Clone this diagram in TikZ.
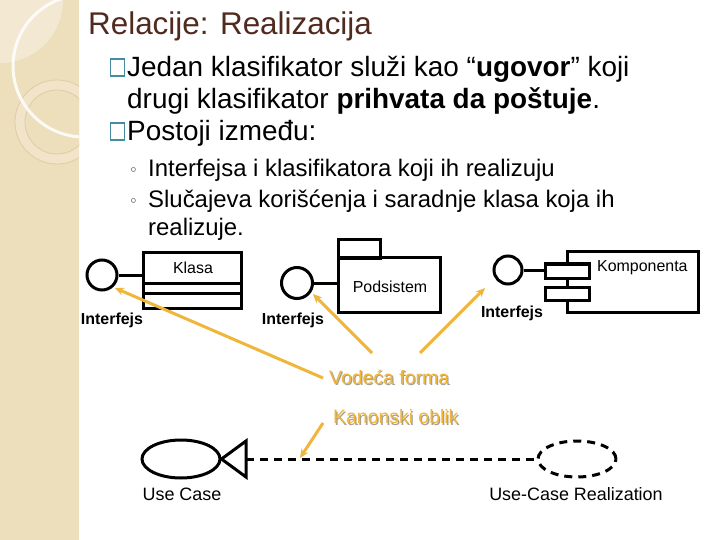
\documentclass[tikz,border=0pt]{standalone}
\usepackage{fontspec}
\setmainfont{Liberation Sans}
\newfontfamily\symf{DejaVu Sans}
\usetikzlibrary{arrows.meta,shapes.geometric}
\definecolor{band}{RGB}{237,222,188}
\definecolor{bandlight}{RGB}{243,233,210}
\definecolor{ringc}{RGB}{222,204,165}
\definecolor{titlec}{RGB}{80,42,30}
\definecolor{tealc}{RGB}{70,140,160}
\definecolor{orng}{RGB}{240,182,58}
\definecolor{shad}{RGB}{165,160,150}
\tikzset{
  ln/.style={line width=3bp, draw=black},
  ifc/.style={circle, draw, line width=3bp, minimum size=30bp, inner sep=0pt},
  boxn/.style={draw, line width=3bp, inner sep=0pt, outer sep=0pt, anchor=north west},
  lbl/.style={font=\fontsize{16}{16}\selectfont, inner sep=0pt},
  ilbl/.style={font=\bfseries\fontsize{16}{16}\selectfont, inner sep=0pt},
  note/.style={text=orng, font=\fontsize{19.5}{20}\selectfont, inner sep=0pt, anchor=west},
  noteshadow/.style={text=shad, font=\fontsize{19.5}{20}\selectfont, inner sep=0pt, anchor=west},
  oarr/.style={draw=orng, line width=3bp, -{Stealth[length=9bp,width=8bp]}},
  maintxt/.style={anchor=base west, inner sep=0pt, font=\fontsize{28}{28}\selectfont},
  subtxt/.style={anchor=base west, inner sep=0pt, font=\fontsize{24}{24}\selectfont},
  sqb/.style={draw=tealc, line width=1.6bp, inner sep=0pt, outer sep=0pt, anchor=north west, minimum width=14bp, minimum height=17bp},
  dotb/.style={anchor=base west, inner sep=0pt, font=\symf\fontsize{15}{15}\selectfont}
}
\begin{document}
\begin{tikzpicture}[x=1bp,y=-1bp]
\useasboundingbox (0,0) rectangle (720,540);
\fill[white] (0,0) rectangle (720,540);
% left decorative band
\fill[band] (0,0) rectangle (79,540);
\begin{scope}
  \clip (0,0) rectangle (79,540);
  \fill[bandlight] (0,0) circle (63);
  \fill[bandlight!60!band] (57,122) circle (42);
  \fill[band] (57,122) circle (32);
  \draw[ringc, line width=0.8bp] (57,122) circle (42);
  \draw[ringc, line width=0.8bp] (57,122) circle (32);
  \draw[white, opacity=0.85, line width=3bp] (84,66) circle (71);
\end{scope}
% title and bullets
\node[anchor=base west, inner sep=0pt, text=titlec, font=\fontsize{31.5}{32}\selectfont] (title) at (88,35) {Relacije: Realizacija};
\node[sqb] (q1) at (110.5,59) {};
\node[maintxt] (t1) at (127,77) {Jedan klasifikator služi kao “\textbf{ugovor}” koji};
\node[maintxt] (t2) at (127,109) {drugi klasifikator \textbf{prihvata da poštuje}.};
\node[sqb] (q2) at (110.5,123) {};
\node[maintxt] (t3) at (127,141) {Postoji između:};
\node[dotb] (d1) at (129,176) {◦};
\node[subtxt] (s1) at (148,177) {Interfejsa i klasifikatora koji ih realizuju};
\node[dotb] (d2) at (129,207) {◦};
\node[subtxt] (s2) at (148,208) {Slučajeva korišćenja i saradnje klasa koja ih};
\node[subtxt] (s3) at (148,236) {realizuje.};
% Klasa
\node[ifc] (if1) at (102,275) {};
\node[boxn, minimum width=98bp, minimum height=55bp] (klasa) at (143,253) {};
\draw[ln] (klasa.west |- 0,283) -- (klasa.east |- 0,283);
\draw[ln] (klasa.west |- 0,293) -- (klasa.east |- 0,293);
\node[lbl] (klasat) at (193,268) {Klasa};
\draw[ln] (if1) -- (klasa.west |- if1);
\node[ilbl] (il1) at (112,320) {Interfejs};
% Podsistem
\node[ifc, minimum size=31bp] (if2) at (297,283) {};
\node[boxn, minimum width=42bp, minimum height=18bp] (tab) at (338,240) {};
\node[boxn, minimum width=102bp, minimum height=54bp] (pkg) at (338,258) {};
\node[lbl] (pkgt) at (390,287) {Podsistem};
\draw[ln] (if2) -- (pkg.west |- if2);
\node[ilbl] (il2) at (293,320) {Interfejs};
% Komponenta
\node[ifc, minimum size=28bp] (if3) at (508,270) {};
\node[boxn, minimum width=131bp, minimum height=60bp] (comp) at (567,252) {};
\node[boxn, fill=white, minimum width=44bp, minimum height=14bp] (p1) at (545,264) {};
\node[boxn, fill=white, minimum width=44bp, minimum height=13bp] (p2) at (545,287) {};
\node[lbl, anchor=west] (compt) at (597,268) {Komponenta};
\draw[ln] (if3) -- (p1.west |- if3);
\node[ilbl] (il3) at (512,313) {Interfejs};
% notes
\node[noteshadow] (vfs) at (330.2,378.2) {Vodeća forma};
\node[note] (vf) at (329,377) {Vodeća forma};
\node[noteshadow] (kos) at (334.2,418.2) {Kanonski oblik};
\node[note] (ko) at (333,417) {Kanonski oblik};
\coordinate (a1s) at (323,378);
\coordinate (a1e) at (115,288);
\coordinate (a2s) at (372,353);
\coordinate (a2e) at (313,294);
\coordinate (a3s) at (420,353);
\coordinate (a3e) at (485,288);
\coordinate (a4s) at (323,423);
\coordinate (a4e) at (300,458);
\draw[oarr] (a1s) -- (a1e);
\draw[oarr] (a2s) -- (a2e);
\draw[oarr] (a3s) -- (a3e);
% use case
\node[ellipse, draw, line width=3bp, minimum width=78bp, minimum height=38bp, inner sep=0pt] (uc) at (181,459) {};
\coordinate (tb) at (246,459);
\draw[ln, line join=miter] (uc.east) -- (246,441) -- (246,477) -- cycle;
\node[ellipse, draw, line width=3bp, dash pattern=on 8bp off 6bp, minimum width=78bp, minimum height=36bp, inner sep=0pt] (ucr) at (577,459) {};
\draw[ln, dash pattern=on 8bp off 6bp] (tb) -- (ucr.west);
\draw[oarr] (a4s) -- (a4e);
\node[lbl, font=\fontsize{18}{18}\selectfont] (uct) at (182,494) {Use Case};
\node[lbl, font=\fontsize{18}{18}\selectfont] (ucrt) at (576,494) {Use-Case Realization};
\end{tikzpicture}
\end{document}
